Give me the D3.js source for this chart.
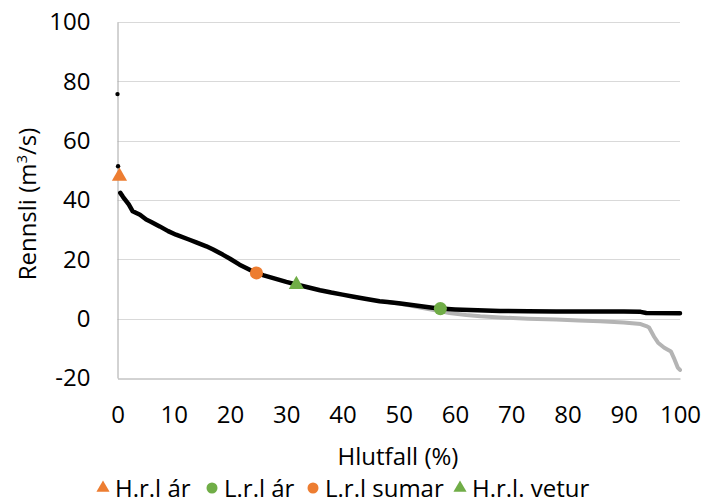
<!DOCTYPE html>
<html>
<head>
<meta charset="utf-8">
<script src="https://cdn.jsdelivr.net/npm/d3@7"></script>
<style>
  body { margin: 0; background: #fff; }
  text { font-family: "Open Sans", sans-serif; fill: #000; }
</style>
</head>
<body>
<div id="chart"></div>
<script>
// rennslislína (svört) - hlutfall % og rennsli m3/s
const blackPct = [0.5, 1, 2, 2.7, 4, 5.1, 6, 7.5, 9, 10.4, 12.8, 14, 15.8, 17, 18.7, 20, 21.7, 23.5, 24.7, 26, 28, 30, 31.8, 34, 36, 38, 40, 42, 44, 46.6, 48, 50, 52, 54, 56, 57.4, 60, 64, 68, 73, 78, 85, 90, 93, 94, 100];
const blackQ = [42.4, 41, 38.5, 36.2, 35, 33.4, 32.6, 31.1, 29.5, 28.3, 26.6, 25.7, 24.4, 23.3, 21.6, 20.2, 18.2, 16.5, 15.4, 14.6, 13.5, 12.4, 11.5, 10.5, 9.6, 8.8, 8.1, 7.4, 6.7, 5.9, 5.6, 5.2, 4.7, 4.2, 3.7, 3.4, 3.1, 2.8, 2.6, 2.5, 2.4, 2.4, 2.4, 2.3, 1.9, 1.8];

// stakir toppar við 0%
const peakPct = [0, 0.1];
const peakQ = [75.7, 51.4];

// grá lína
const grayPct = [48, 50, 52, 54, 56, 57.4, 59, 62, 64.5, 68, 73, 78, 82, 85.8, 90, 93, 94, 94.5, 95.4, 96.1, 97.2, 98.4, 98.9, 99.6, 100];
const grayQ = [5.6, 5.1, 4.4, 3.7, 3.0, 2.5, 1.9, 1.2, 0.8, 0.4, 0, -0.3, -0.6, -0.9, -1.3, -1.8, -2.5, -3, -6.1, -8.1, -9.8, -11.1, -13.2, -16.5, -17.3];

// merktir punktar
const markNames = ["H.r.l ár", "L.r.l ár", "L.r.l sumar", "H.r.l. vetur"];
const markPct = [0.35, 57.4, 24.7, 31.8];
const markQ = [48, 3.4, 15.4, 11.5];
const markShape = ["triangle", "circle", "circle", "triangle"];
const markColor = ["#ED7D31", "#70AD47", "#ED7D31", "#70AD47"];

const xTicks = [0, 10, 20, 30, 40, 50, 60, 70, 80, 90, 100];
const yTicks = [-20, 0, 20, 40, 60, 80, 100];

var svgWidth = 701, svgHeight = 504;
var plotLeft = 117.5, plotRight = 680, plotTop = 22, plotBottom = 378;
var fontSize = "24px";

var svg = d3.select("#chart")
    .append("svg")
    .attr("width", svgWidth)
    .attr("height", svgHeight);

var x = d3.scaleLinear().domain([0, 100]).range([plotLeft, plotRight]);
var y = d3.scaleLinear().domain([-20, 100]).range([plotBottom, plotTop]);

// gridlínur
svg.append("g")
    .selectAll("line")
    .data(yTicks.filter(d => d > -20))
    .enter()
    .append("line")
    .attr("x1", plotLeft)
    .attr("x2", plotRight)
    .attr("y1", d => Math.round(y(d)) + 0.5)
    .attr("y2", d => Math.round(y(d)) + 0.5)
    .attr("stroke", "#d9d9d9")
    .attr("stroke-width", 1);

// y ás - venjulegt bandstrik í mínus eins og í Excel
var yAxis = d3.axisLeft(y).tickValues(yTicks).tickSize(0).tickPadding(27)
    .tickFormat(d => String(d));
var gy = svg.append("g")
    .attr("transform", "translate(" + plotLeft + ",0)")
    .call(yAxis);
gy.select(".domain").attr("stroke", "#a6a6a6");
gy.selectAll("text").style("font-size", fontSize).style("font-family", "Open Sans");

// x ás
var xAxis = d3.axisBottom(x).tickValues(xTicks).tickSize(0).tickPadding(27);
var gx = svg.append("g")
    .attr("transform", "translate(0," + (Math.round(plotBottom) + 0.5) + ")")
    .call(xAxis);
gx.select(".domain").attr("stroke", "#a6a6a6");
gx.selectAll("text").style("font-size", fontSize).style("font-family", "Open Sans");

var line = d3.line()
    .x(function (d) { return x(d[0]); })
    .y(function (d) { return y(d[1]); });

// grá lína fyrst
svg.append("path")
    .datum(d3.zip(grayPct, grayQ))
    .attr("d", line)
    .attr("fill", "none")
    .attr("stroke", "#b4b4b4")
    .attr("stroke-width", 4)
    .attr("stroke-linecap", "round")
    .attr("stroke-linejoin", "round");

svg.append("path")
    .datum(d3.zip(blackPct, blackQ))
    .attr("d", line)
    .attr("fill", "none")
    .attr("stroke", "#000")
    .attr("stroke-width", 4.5)
    .attr("stroke-linecap", "round")
    .attr("stroke-linejoin", "round");

svg.selectAll(".peak")
    .data(d3.zip(peakPct, peakQ))
    .enter()
    .append("circle")
    .attr("cx", d => x(d[0]))
    .attr("cy", d => y(d[1]))
    .attr("r", 2.2)
    .attr("fill", "#000");

var symTri = d3.symbol().type(d3.symbolTriangle).size(100);
var symCirc = d3.symbol().type(d3.symbolCircle).size(135);

svg.selectAll(".mark")
    .data(d3.range(markNames.length))
    .enter()
    .append("path")
    .attr("transform", i => "translate(" + x(markPct[i]) + "," + y(markQ[i]) + ")")
    .attr("d", i => markShape[i] == "triangle" ? symTri() : symCirc())
    .attr("fill", i => markColor[i]);

// ásatitlar
svg.append("text")
    .attr("x", 398)
    .attr("y", 465)
    .attr("text-anchor", "middle")
    .style("font-size", fontSize)
    .text("Hlutfall (%)");

var yt = svg.append("text")
    .attr("transform", "translate(36,204) rotate(-90)")
    .attr("text-anchor", "middle")
    .style("font-size", fontSize);
yt.append("tspan").text("Rennsli (m");
yt.append("tspan").attr("dy", -9).style("font-size", "15px").text("3");
yt.append("tspan").attr("dy", 9).text("/s)");

// skýringar
var legendX = [103, 212, 313, 460];
var lg = svg.selectAll(".leg")
    .data(d3.range(markNames.length))
    .enter()
    .append("g")
    .attr("transform", i => "translate(" + legendX[i] + ",488)");
lg.append("path")
    .attr("d", i => markShape[i] == "triangle" ? d3.symbol().type(d3.symbolTriangle).size(75)() : d3.symbol().type(d3.symbolCircle).size(95)())
    .attr("fill", i => markColor[i]);
lg.append("text")
    .attr("x", 12)
    .attr("y", 8.5)
    .style("font-size", fontSize)
    .text(i => markNames[i]);
</script>
</body>
</html>
